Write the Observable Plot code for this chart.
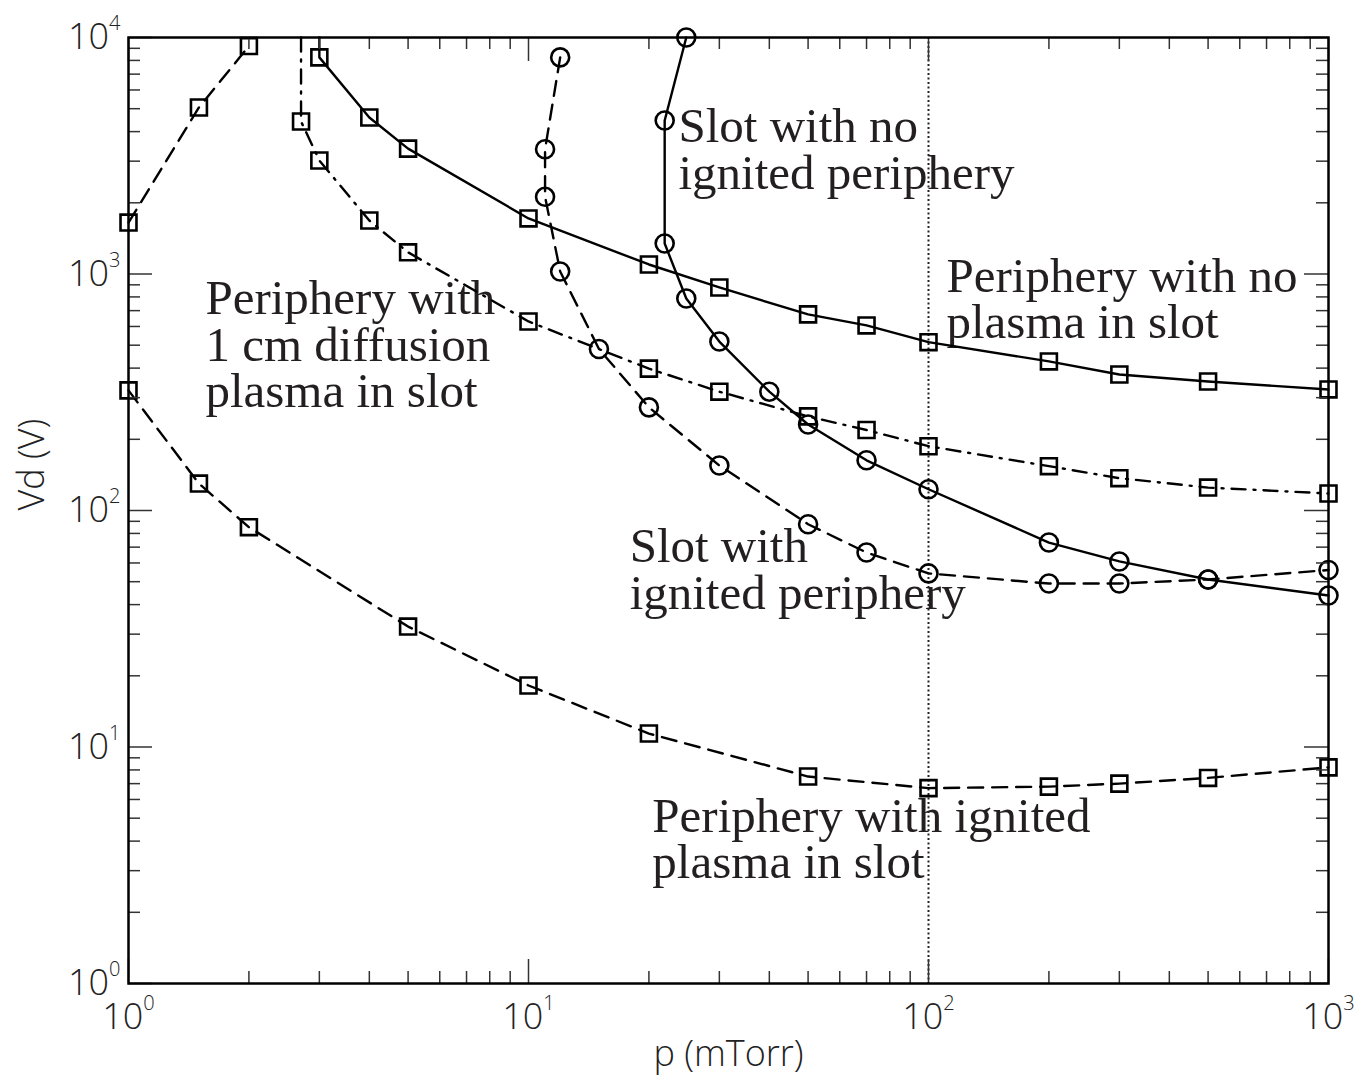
<!DOCTYPE html>
<html>
<head>
<meta charset="utf-8">
<script src="https://cdn.jsdelivr.net/npm/d3@7"></script>
<script src="https://cdn.jsdelivr.net/npm/@observablehq/plot@0.6"></script>
<style>
  html, body { margin: 0; padding: 0; background: #fff; }
</style>
</head>
<body>
<div id="chart"></div>
<script>
// ---------- DATA ----------
// Periphery with no plasma in slot (solid line, squares)
const noPlasmaTopP = [3];
const noPlasmaTopV = [10000];
const noPlasmaP = [3, 4, 5, 10, 20, 30, 50, 70, 100, 200, 300, 500, 1000];
const noPlasmaV = [8240, 4590, 3390, 1718, 1097, 877, 675, 606, 515, 427, 376, 351, 325];

// Periphery with 1 cm diffusion plasma in slot (dash-dot line, squares)
const diffTopP = [2.7];
const diffTopV = [10000];
const diffP = [2.7, 3, 4, 5, 10, 20, 30, 50, 70, 100, 200, 300, 500, 1000];
const diffV = [4415, 3020, 1683, 1235, 630, 398, 318, 250, 219, 187, 154, 137, 125, 118];

// Periphery with ignited plasma in slot (dashed line, squares), upper branch
const ignUpperP = [1, 1.5, 2];
const ignUpperV = [1650, 5060, 9200];
// Periphery with ignited plasma in slot (dashed line, squares), lower branch
const ignLowerP = [1, 1.5, 2, 5, 10, 20, 50, 100, 200, 300, 500, 1000];
const ignLowerV = [322, 130, 85, 32.3, 18.2, 11.4, 7.5, 6.7, 6.8, 7.0, 7.4, 8.2];

// Slot with ignited periphery (dashed line, circles)
const slotIgnP = [12, 11, 11, 12, 15, 20, 30, 50, 70, 100, 200, 300, 500, 1000];
const slotIgnV = [8240, 3370, 2120, 1025, 482, 273, 155, 87.5, 66.4, 54.2, 49.1, 49.1, 51.1, 56];

// Slot with no ignited periphery (solid line, circles)
const slotNoP = [24.8, 21.9, 21.9, 24.8, 30, 40, 50, 70, 100, 200, 300, 500, 1000];
const slotNoV = [10000, 4460, 1345, 788, 518, 318, 231, 163, 123, 73.2, 60.9, 51.1, 43.7];

// Reference pressure (dotted vertical line)
const refPressure = [100];

// Annotation texts and their anchor (left edge, baseline of last line) in data units
const annLabels = [
  "Slot with no\nignited periphery",
  "Periphery with no\nplasma in slot",
  "Periphery with\n1 cm diffusion\nplasma in slot",
  "Slot with\nignited periphery",
  "Periphery with ignited\nplasma in slot"
];
const annP = [23.7, 110.9, 1.557, 17.9, 20.4];
const annV = [2297, 534, 272.6, 38.5, 2.78];

// Axis tick labels
const xMajorTicks = [1, 10, 100, 1000];
const yMajorTicks = [1, 10, 100, 1000, 10000];
const xTitle = "p (mTorr)";
const yTitle = "Vd (V)";

// ---------- BUILD ----------
const pts = (P, V) => P.map((p, i) => ({p, v: V[i]}));
const minorOf = (majors) => {
  const out = [];
  for (let i = 0; i < majors.length - 1; i++)
    for (let m = 2; m <= 9; m++) out.push(majors[i] * m);
  return out;
};
const xMinor = minorOf(xMajorTicks);
const yMinor = minorOf(yMajorTicks);

const width = 1365, height = 1077;
const mL = 128, mR = 37, mT = 37, mB = 94;
const plotW = width - mL - mR, plotH = height - mT - mB;
const majLen = 24, minLen = 12;

const noPlasmaLine = pts(noPlasmaTopP.concat(noPlasmaP), noPlasmaTopV.concat(noPlasmaV));
const diffLine = pts(diffTopP.concat(diffP), diffTopV.concat(diffV));
const ignUpperLine = pts(ignUpperP, ignUpperV);
const ignLowerLine = pts(ignLowerP, ignLowerV);
const slotIgnLine = pts(slotIgnP, slotIgnV);
const slotNoLine = pts(slotNoP, slotNoV);

const squares = [...pts(noPlasmaP, noPlasmaV), ...pts(diffP, diffV), ...ignUpperLine, ...ignLowerLine];
const circles = [...slotIgnLine, ...slotNoLine];

const annotations = annLabels.map((label, i) => ({label, p: annP[i], v: annV[i]}));

const lineOpts = {x: "p", y: "v", stroke: "#000", strokeWidth: 2.4, curve: "linear"};
const dashed = "15,9";
const dashDot = "14,8,2,8";
const tickStroke = "#333";
const markerOpts = {x: "p", y: "v", r: 9, fill: "none", stroke: "#000", strokeWidth: 2.6};

const svg = Plot.plot({
  width, height,
  marginLeft: mL, marginRight: mR, marginTop: mT, marginBottom: mB,
  style: {fontFamily: "'Open Sans', sans-serif", fontSize: "36px", fontWeight: 300, color: "#222", background: "#fff"},
  x: {type: "log", domain: [1, 1000]},
  y: {type: "log", domain: [1, 10000]},
  marks: [
    // annotations (drawn beneath the curves)
    Plot.text(annotations, {
      x: "p", y: "v", text: "label", textAnchor: "start", lineAnchor: "bottom",
      lineHeight: 0.95, fontSize: 49, fontWeight: 400,
      fontFamily: "'Liberation Serif', 'Times New Roman', serif",
      fill: "#231f20"
    }),
    // dotted reference line
    Plot.ruleX(refPressure, {x: d => d, stroke: "#222", strokeWidth: 2, strokeDasharray: "2,2.5"}),
    // curves
    Plot.line(noPlasmaLine, lineOpts),
    Plot.line(diffLine, {...lineOpts, strokeDasharray: dashDot}),
    Plot.line(ignUpperLine, {...lineOpts, strokeDasharray: dashed}),
    Plot.line(ignLowerLine, {...lineOpts, strokeDasharray: dashed}),
    Plot.line(slotIgnLine, {...lineOpts, strokeDasharray: dashed}),
    Plot.line(slotNoLine, lineOpts),
    // markers
    Plot.dot(squares, {...markerOpts, symbol: "square"}),
    Plot.dot(circles, {...markerOpts, symbol: "circle"}),
    // inward ticks: bottom / top
    Plot.ruleX(xMajorTicks, {x: d => d, insetTop: plotH - majLen, stroke: tickStroke, strokeWidth: 1.5}),
    Plot.ruleX(xMinor, {x: d => d, insetTop: plotH - minLen, stroke: tickStroke, strokeWidth: 1.5}),
    Plot.ruleX(xMajorTicks, {x: d => d, insetBottom: plotH - majLen, stroke: tickStroke, strokeWidth: 1.5}),
    Plot.ruleX(xMinor, {x: d => d, insetBottom: plotH - minLen, stroke: tickStroke, strokeWidth: 1.5}),
    // inward ticks: left / right
    Plot.ruleY(yMajorTicks, {y: d => d, insetRight: plotW - majLen, stroke: tickStroke, strokeWidth: 1.5}),
    Plot.ruleY(yMinor, {y: d => d, insetRight: plotW - minLen, stroke: tickStroke, strokeWidth: 1.5}),
    Plot.ruleY(yMajorTicks, {y: d => d, insetLeft: plotW - majLen, stroke: tickStroke, strokeWidth: 1.5}),
    Plot.ruleY(yMinor, {y: d => d, insetLeft: plotW - minLen, stroke: tickStroke, strokeWidth: 1.5}),
    // frame
    Plot.frame({stroke: "#000", strokeWidth: 2.5}),
    // axes (labels only)
    Plot.axisX({ticks: xMajorTicks, tickSize: 0, tickPadding: 20, fontSize: 36, label: null,
      tickFormat: d => `10^${Math.round(Math.log10(d))}`}),
    Plot.axisY({ticks: yMajorTicks, tickSize: 0, tickPadding: 8, fontSize: 36, label: null,
      tickFormat: d => `10^${Math.round(Math.log10(d))}`}),
    // axis titles
    Plot.text([xTitle], {text: d => d, frameAnchor: "bottom", lineAnchor: "bottom", dy: 82, fontSize: 36, fill: "#222"}),
    Plot.text([yTitle], {text: d => d, frameAnchor: "left", lineAnchor: "bottom", rotate: -90, dx: -85, fontSize: 36, fill: "#222"})
  ]
});

// render exponents as superscripts
d3.select(svg).selectAll('g[aria-label$="tick label"] text').each(function () {
  const s = this.textContent;
  const k = s.indexOf("^");
  if (k < 0) return;
  const base = s.slice(0, k), exp = s.slice(k + 1);
  while (this.firstChild) this.removeChild(this.firstChild);
  d3.select(this).append("tspan").text(base);
  d3.select(this).append("tspan").attr("dy", -19).attr("font-size", 20).text(exp);
});

document.getElementById("chart").appendChild(svg);
</script>
</body>
</html>
